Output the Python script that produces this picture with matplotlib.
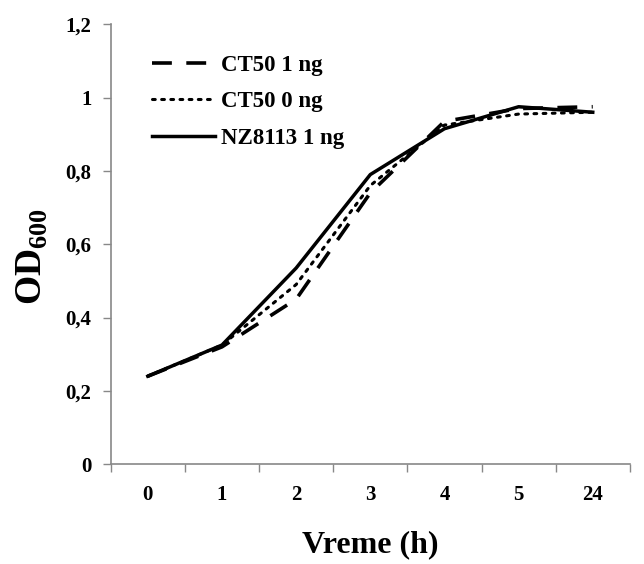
import numpy as np
import matplotlib
matplotlib.use("Agg")
import matplotlib.pyplot as plt
from matplotlib.ticker import FixedLocator, FuncFormatter

# data
hours = ["0", "1", "2", "3", "4", "5", "24"]
ct50_1ng = [0.24, 0.32, 0.45, 0.74, 0.935, 0.97, 0.975]
ct50_0ng = [0.24, 0.325, 0.49, 0.76, 0.925, 0.955, 0.96]
nz8113_1ng = [0.24, 0.325, 0.535, 0.79, 0.915, 0.975, 0.96]

plt.rcParams['font.family'] = ['Liberation Serif', 'DejaVu Serif']
plt.rcParams['font.weight'] = 'bold'
plt.rcParams['mathtext.fontset'] = 'custom'
plt.rcParams['mathtext.rm'] = 'Liberation Serif:bold'
plt.rcParams['mathtext.bf'] = 'Liberation Serif:bold'


def main():
	fig = plt.figure(figsize=(6.44, 5.64), dpi=100)
	ax = fig.add_axes([0.172, 0.177, 0.806, 0.78])

	x = np.arange(len(hours))
	ax.plot(x, ct50_1ng, color='black', lw=2.6, dashes=(5.5, 4), label='CT50 1 ng')
	ax.plot(x, ct50_0ng, color='black', lw=2.2, linestyle=(0, (0.9, 2.1)),
		dash_capstyle='round', label='CT50 0 ng')
	ax.plot(x, nz8113_1ng, color='black', lw=2.5, label='NZ8113 1 ng')

	ax.set_xlim(-0.5, len(hours) - 0.5)
	ax.set_ylim(0, 1.2)

	# category labels in the middle, tick marks at the boundaries
	ax.set_xticks(x)
	ax.set_xticklabels(hours, fontsize=15, fontweight='bold')
	ax.tick_params(axis='x', which='major', length=0, pad=15)
	ax.xaxis.set_minor_locator(FixedLocator(np.arange(-0.5, len(hours) - 0.4, 1)))
	ax.tick_params(axis='x', which='minor', length=6, width=1, color='#888888', direction='out')

	ax.set_yticks(np.arange(0, 1.21, 0.2))
	ax.yaxis.set_major_formatter(FuncFormatter(lambda v, p: ('%g' % round(v, 1)).replace('.', ',')))
	ax.tick_params(axis='y', length=6, width=1, color='#888888', direction='out', pad=8,
		labelsize=15)
	for lbl in ax.get_yticklabels():
		lbl.set_fontweight('bold')

	for s in ['top', 'right']:
		ax.spines[s].set_visible(False)
	for s in ['left', 'bottom']:
		ax.spines[s].set_color('#888888')
		ax.spines[s].set_linewidth(1.2)

	ax.set_xlabel('Vreme (h)', fontsize=23, fontweight='bold', labelpad=18)
	ax.set_ylabel(r'$\mathrm{OD}_{600}$', fontsize=27)
	ax.yaxis.set_label_coords(-0.117, 0.473)

	leg = ax.legend(loc='upper left', bbox_to_anchor=(0.04, 0.978), frameon=False,
		fontsize=16.5, handlelength=2.75, handletextpad=0.25, labelspacing=0.68)
	for t in leg.get_texts():
		t.set_fontweight('bold')

	fig.savefig('out.png', dpi=100, facecolor='white')


if __name__ == '__main__':
	main()
